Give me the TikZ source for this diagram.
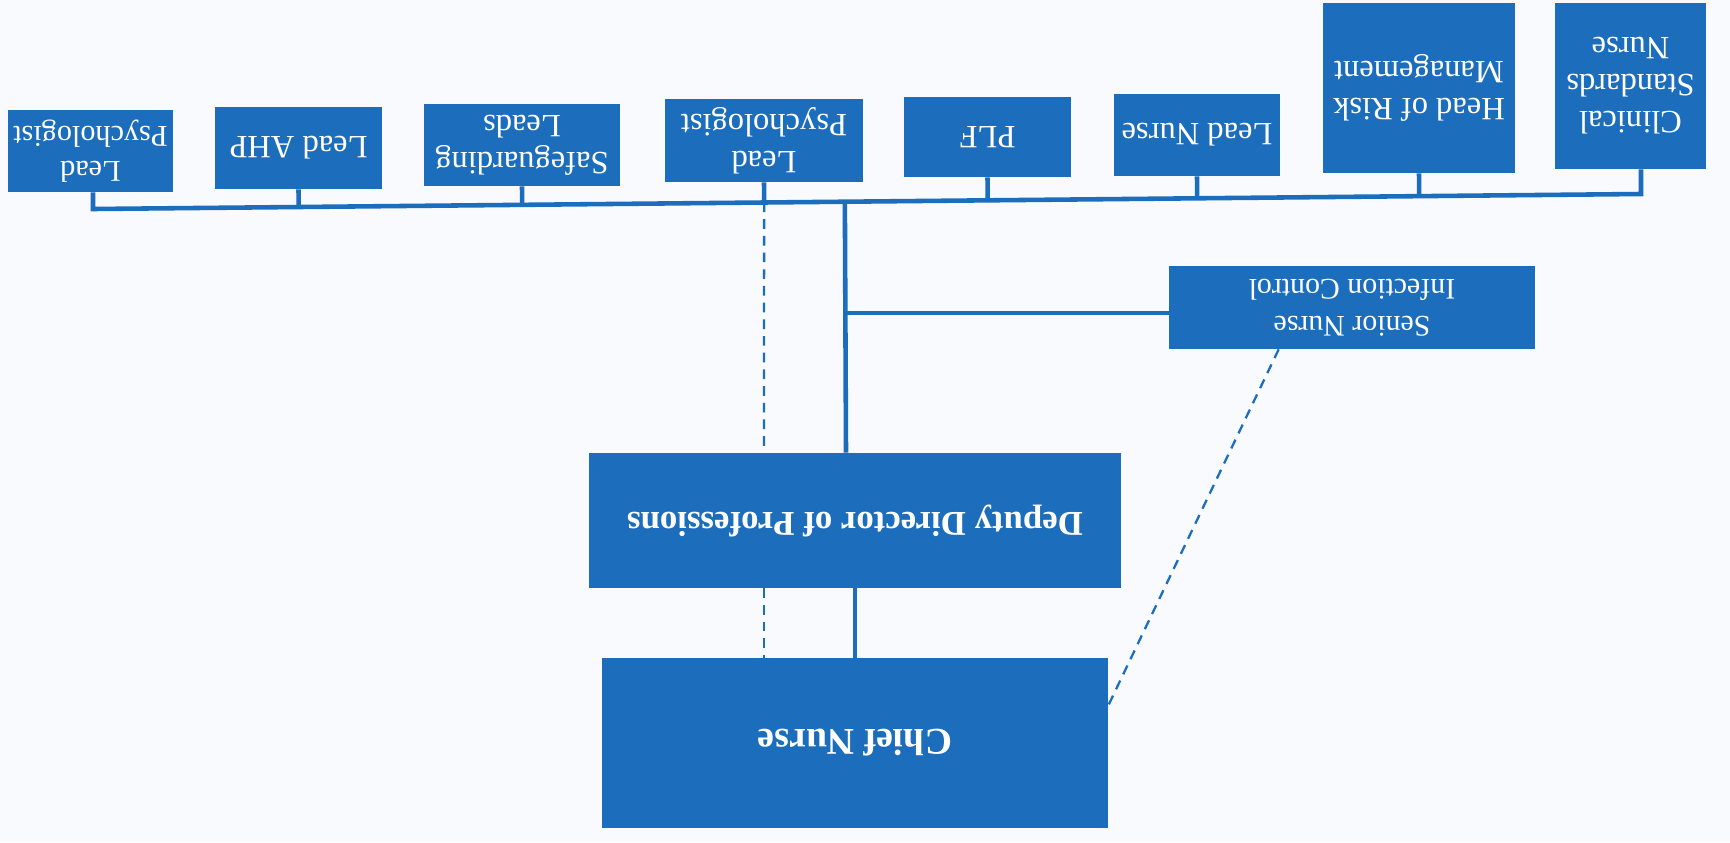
\documentclass[tikz,border=0pt]{standalone}
\usepackage{fontspec}
\setmainfont{Liberation Serif}
\usetikzlibrary{calc}
\definecolor{nhsblue}{RGB}{28,110,188}
\definecolor{paper}{RGB}{248,250,253}

\begin{document}
\begin{tikzpicture}[x=0.02cm,y=-0.02cm,
  box/.style={fill=nhsblue,text=white,rotate=180,inner sep=0pt,align=center,
    font=\fontsize{18.5}{21}\selectfont},
  link/.style={nhsblue,line width=2.6pt},
  dashlink/.style={nhsblue,line width=1.3pt,dash pattern=on 5.5pt off 4pt}]
%page (scanned upside down)
\fill[paper] (0,0) rectangle (1730,842);
\useasboundingbox (0,0) rectangle (1730,842);
%top row
\node[box,minimum width=3.30cm,minimum height=1.64cm,font=\fontsize{17.2}{20}\selectfont] (lpa) at (90.5,151) {Lead\\Psychologist};
\node[box,minimum width=3.34cm,minimum height=1.64cm] (ahp) at (298.5,148) {Lead AHP};
\node[box,minimum width=3.92cm,minimum height=1.64cm] (safe) at (522,145) {Safeguarding\\Leads};
\node[box,minimum width=3.96cm,minimum height=1.66cm] (lpb) at (764,140.5) {Lead\\Psychologist};
\node[box,minimum width=3.34cm,minimum height=1.60cm] (plf) at (987.5,137) {PLF};
\node[box,minimum width=3.32cm,minimum height=1.64cm] (lnurse) at (1197,135) {Lead Nurse};
\node[box,minimum width=3.84cm,minimum height=3.40cm] (risk) at (1419,88) {Head of Risk\\Management};
\node[box,minimum width=3.02cm,minimum height=3.32cm] (clin) at (1630.5,86) {Clinical\\Standards\\Nurse};
%middle and bottom
\node[box,minimum width=7.32cm,minimum height=1.66cm,font=\fontsize{17}{21}\selectfont] (sn) at (1352,307.5) {Senior Nurse\\Infection Control};
\node[box,minimum width=10.64cm,minimum height=2.70cm,font=\fontsize{19.8}{23}\selectfont\bfseries] (dd) at (855,520.5) {Deputy Director of Professions};
\node[box,minimum width=10.12cm,minimum height=3.40cm,font=\fontsize{21.5}{25}\selectfont\bfseries] (chief) at (855,743) {Chief Nurse};
%bar
\coordinate (barL) at (93,209);
\coordinate (barR) at (1641,194);
\draw[link] (lpa.north -| barL) -- (barL) -- (barR) -- (clin.north -| barR);
\foreach \n in {ahp,safe,lpb,plf,lnurse,risk}
  \draw[link] (\n.north) -- ($(barL)!(\n.north)!(barR)$);
%trunk
\coordinate (jn) at (846,313);
\draw[link] ($(barL)!(jn)!(barR)$) -- (jn |- dd.south);
\draw[link] (jn) -- (jn -| sn.east);
\draw[link] (dd.north) -- (chief.south);
%dotted lines
\draw[dashlink] ($(barL)!(lpb.north)!(barR)$) -- (lpb.north |- dd.south);
\draw[dashlink] (lpb.north |- dd.north) -- (lpb.north |- chief.south);
\draw[dashlink] ($(sn.north east)!0.3!(sn.north west)$) -- ($(chief.south west)!0.28!(chief.north west)$);
\end{tikzpicture}
\end{document}
